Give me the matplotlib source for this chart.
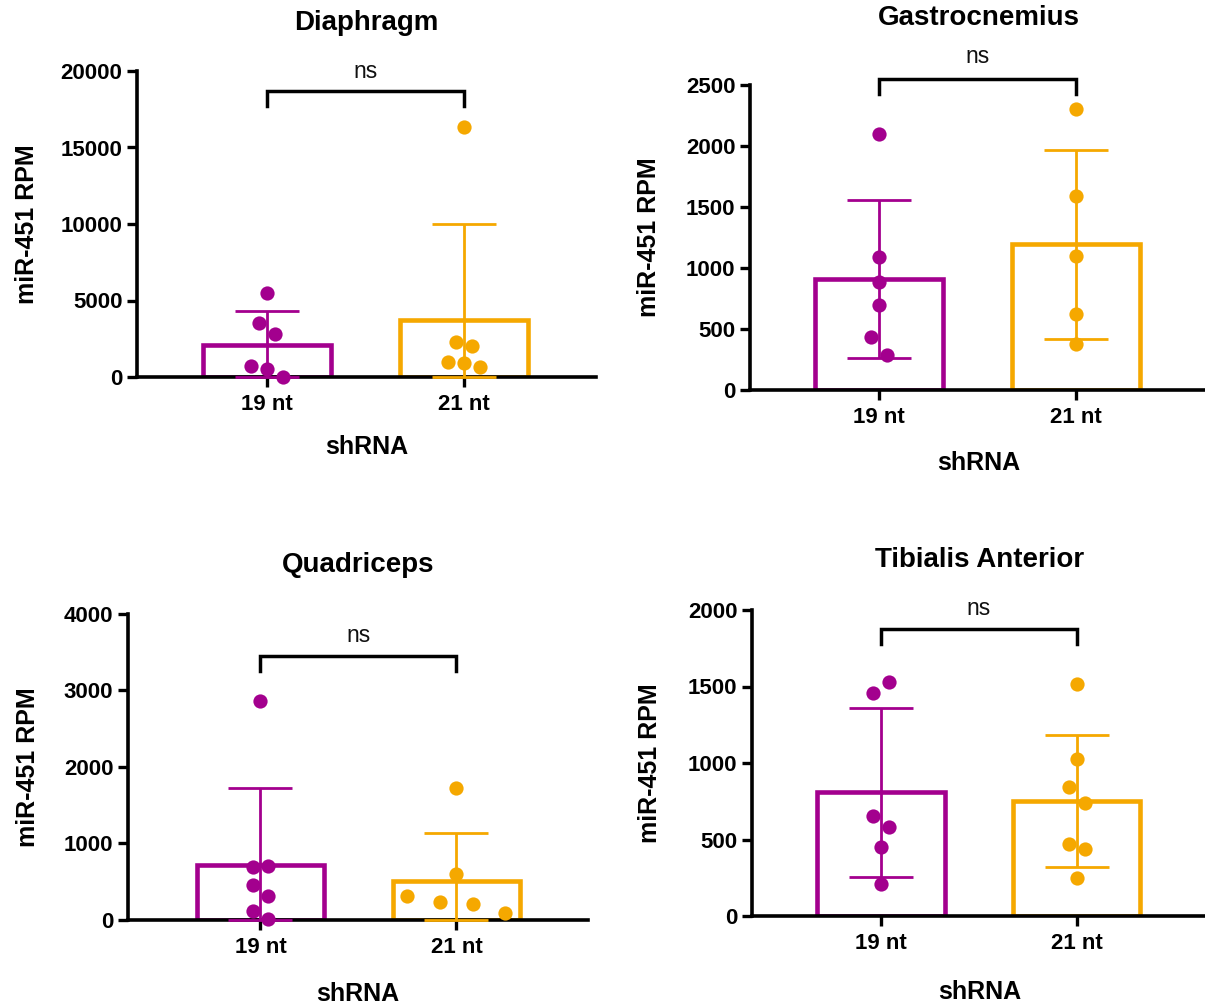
import matplotlib
matplotlib.use("Agg")
import matplotlib.pyplot as plt

plt.rcParams['font.family'] = ['Liberation Sans', 'DejaVu Sans']

PURPLE = '#A3008E'
ORANGE = '#F5A800'

categories = ['19 nt', '21 nt']
ylabel_text = 'miR-451 RPM'
xlabel_text = 'shRNA'

# ---- Diaphragm ----
dia_19 = [5490, 3530, 2830, 700, 545, 30]
dia_19_off = [0, -0.04, 0.04, -0.08, 0, 0.08]
dia_21 = [16350, 2290, 2000, 980, 920, 650]
dia_21_off = [0, -0.04, 0.04, -0.08, 0, 0.08]
dia_mean = [2070, 3750]
dia_sd = [2240, 6270]
dia_ticks = [0, 5000, 10000, 15000, 20000]

# ---- Gastrocnemius ----
gas_19 = [2098, 1087, 888, 694, 432, 287]
gas_19_off = [0, 0, 0, 0, -0.04, 0.04]
gas_21 = [2303, 1593, 1101, 623, 377]
gas_21_off = [0, 0, 0, 0, 0]
gas_mean = [910, 1195]
gas_sd = [650, 775]
gas_ticks = [0, 500, 1000, 1500, 2000, 2500]

# ---- Quadriceps ----
qua_19 = [2865, 699, 681, 450, 306, 114, 13]
qua_19_off = [0, 0.04, -0.04, -0.04, 0.04, -0.04, 0.04]
qua_21 = [1716, 590, 310, 231, 201, 87]
qua_21_off = [0, 0, -0.25, -0.082, 0.084, 0.25]
qua_mean = [712, 507]
qua_sd = [1004, 620]
qua_ticks = [0, 1000, 2000, 3000, 4000]

# ---- Tibialis Anterior ----
tib_19 = [1527, 1455, 654, 580, 453, 207]
tib_19_off = [0.04, -0.04, -0.04, 0.04, 0, 0]
tib_21 = [1516, 1028, 841, 741, 471, 436, 251]
tib_21_off = [0, 0, -0.04, 0.04, -0.04, 0.04, 0]
tib_mean = [808, 750]
tib_sd = [550, 432]
tib_ticks = [0, 500, 1000, 1500, 2000]

panels = [
    dict(title='Diaphragm', pts=[dia_19, dia_21], offs=[dia_19_off, dia_21_off],
         mean=dia_mean, sd=dia_sd, ticks=dia_ticks,
         rect_px=(137, 71, 596, 377), xlim=(-0.66, 1.67), title_y=23,
         brk=(18700, 17700), ns_y=19950, ylab_x=-0.24, xlab_y=-0.229),
    dict(title='Gastrocnemius', pts=[gas_19, gas_21], offs=[gas_19_off, gas_21_off],
         mean=gas_mean, sd=gas_sd, ticks=gas_ticks,
         rect_px=(750, 85, 1208, 390), xlim=(-0.655, 1.67), title_y=18,
         brk=(2549, 2423), ns_y=2732, ylab_x=-0.22, xlab_y=-0.24),
    dict(title='Quadriceps', pts=[qua_19, qua_21], offs=[qua_19_off, qua_21_off],
         mean=qua_mean, sd=qua_sd, ticks=qua_ticks,
         rect_px=(128, 614, 588, 919.5), xlim=(-0.676, 1.671), title_y=565,
         brk=(3454, 3258), ns_y=3725, ylab_x=-0.217, xlab_y=-0.245),
    dict(title='Tibialis Anterior', pts=[tib_19, tib_21], offs=[tib_19_off, tib_21_off],
         mean=tib_mean, sd=tib_sd, ticks=tib_ticks,
         rect_px=(752, 610, 1208, 916), xlim=(-0.658, 1.67), title_y=560,
         brk=(1874, 1778), ns_y=2011, ylab_x=-0.224, xlab_y=-0.248),
]

W, H = 1205, 1008
fig = plt.figure(figsize=(W / 100, H / 100), dpi=100)
colors = [PURPLE, ORANGE]

for p in panels:
    l, t, r, b = p['rect_px']
    ax = fig.add_axes([l / W, 1 - b / H, (r - l) / W, (b - t) / H])
    x = [0, 1]
    ymax = p['ticks'][-1]
    ax.set_xlim(*p['xlim'])
    ax.set_ylim(0, ymax)
    # bars
    ax.bar(x, p['mean'], width=0.65, facecolor='white', edgecolor=colors,
           linewidth=3.3, zorder=2)
    # error bars
    for i in range(2):
        lo = max(p['mean'][i] - p['sd'][i], 0)
        hi = p['mean'][i] + p['sd'][i]
        ax.errorbar([x[i]], [p['mean'][i]],
                    yerr=[[p['mean'][i] - lo], [hi - p['mean'][i]]],
                    fmt='none', ecolor=colors[i], elinewidth=2.0, capsize=23,
                    capthick=2.0, zorder=3, clip_on=False)
        xs = [x[i] + o for o in p['offs'][i]]
        ax.scatter(xs, p['pts'][i], s=105, color=colors[i], zorder=4,
                   clip_on=False, linewidths=0)
    # bracket
    b1, b2 = p['brk']
    ax.plot([0, 0, 1, 1], [b2, b1, b1, b2], color='black', lw=2.5,
            clip_on=False, solid_joinstyle='miter', zorder=5)
    ax.text(0.5, p['ns_y'], 'ns', ha='center', va='center', fontsize=16.5,
            color='#111111')
    # styling
    for s in ['top', 'right']:
        ax.spines[s].set_visible(False)
    for s in ['left', 'bottom']:
        ax.spines[s].set_linewidth(2.6)
        ax.spines[s].set_zorder(2.5)
    ax.set_yticks(p['ticks'])
    ax.set_yticklabels([str(v) for v in p['ticks']], fontsize=16,
                       fontweight='bold')
    ax.set_xticks(x)
    ax.set_xticklabels(categories, fontsize=16, fontweight='bold')
    ax.tick_params(axis='y', length=7, width=2.4, pad=3.5)
    ax.tick_params(axis='x', length=7, width=2.4, pad=5.5)
    ax.set_ylabel(ylabel_text, fontsize=18, fontweight='bold', va='center')
    ax.yaxis.set_label_coords(p['ylab_x'], 0.5)
    ax.set_xlabel(xlabel_text, fontsize=18, fontweight='bold', va='center')
    ax.xaxis.set_label_coords(0.5, p['xlab_y'])
    fig.text((l + r) / 2 / W, 1 - p['title_y'] / H, p['title'], ha='center',
             va='center', fontsize=20, fontweight='bold')

fig.savefig('out.png', dpi=100, facecolor='white')
